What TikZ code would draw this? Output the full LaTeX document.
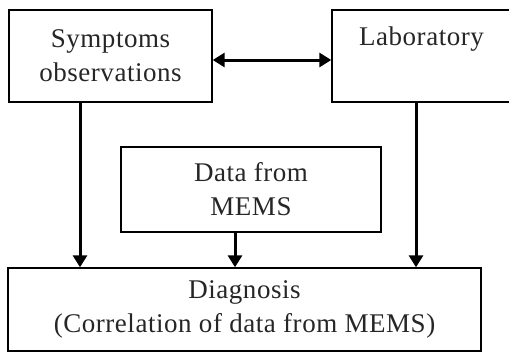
\documentclass[tikz,border=0pt]{standalone}
\usepackage{fontspec}
\setmainfont{Liberation Serif}[LetterSpace=2]
\usetikzlibrary{arrows.meta}
\begin{document}
\begin{tikzpicture}[x=1pt,y=-1pt,
  box/.style={draw=black,line width=1.4pt,rectangle,inner sep=0pt,align=center,
    font=\fontsize{27}{34}\selectfont,text=black!85},
  arr/.style={line width=3pt,-{Triangle[length=12pt,width=14pt]}},
  darr/.style={line width=3pt,{Triangle[length=12pt,width=14pt]}-{Triangle[length=12pt,width=14pt]}}]
\useasboundingbox (0,0) rectangle (509,354);
\node[box,minimum width=203pt,minimum height=92pt] (symp) at (110.5,56) {Symptoms\\observations};
\node[box,minimum width=179pt,minimum height=92pt] (lab) at (421.5,56) {Laboratory\\[-4pt]\strut};
\node[box,minimum width=260pt,minimum height=85pt] (mems) at (251,189.5) {Data from\\MEMS};
\node[box,minimum width=473pt,minimum height=83pt] (diag) at (244.5,309.5) {Diagnosis\\(Correlation of data from MEMS)};
\coordinate (lx) at (80,0);
\coordinate (mx) at (235,0);
\coordinate (rx) at (416,0);
\coordinate (ay) at (0,60);
\draw[darr] (symp.east |- ay) -- (lab.west |- ay);
\draw[arr] (symp.south -| lx) -- (diag.north -| lx);
\draw[arr] (mems.south -| mx) -- (diag.north -| mx);
\draw[arr] (lab.south -| rx) -- (diag.north -| rx);
\end{tikzpicture}
\end{document}
